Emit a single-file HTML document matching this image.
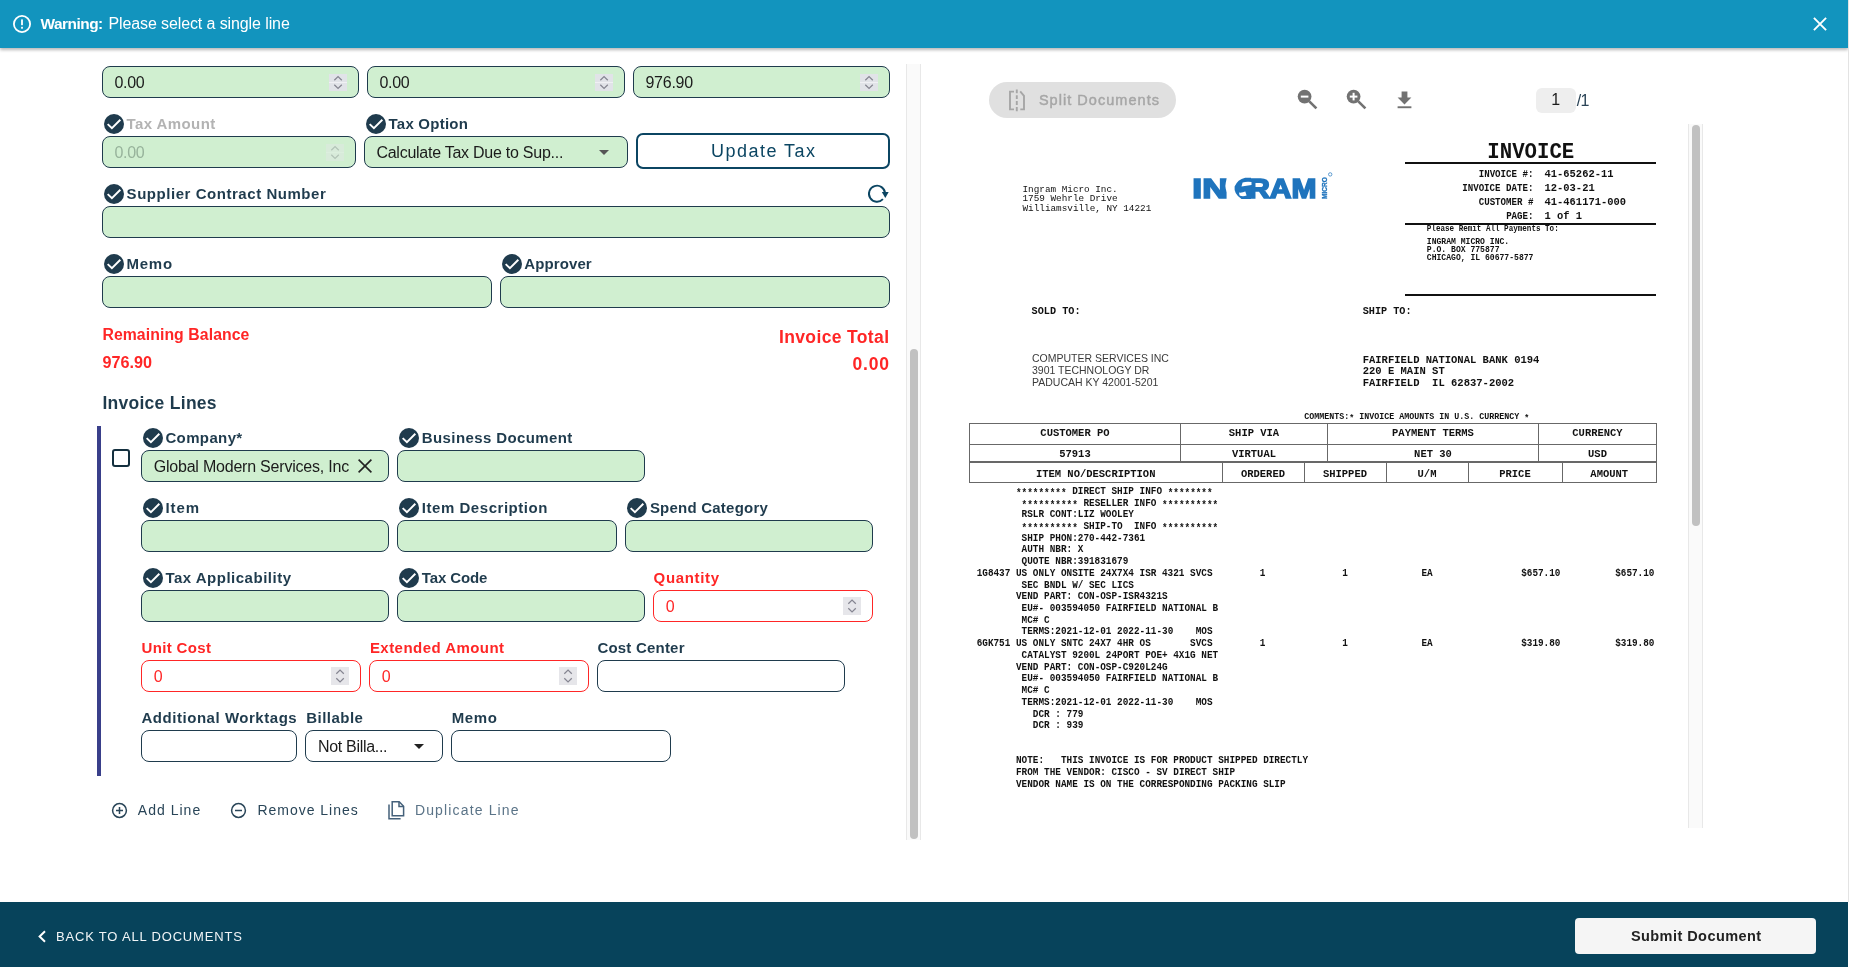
<!DOCTYPE html>
<html><head><meta charset="utf-8"><title>Invoice</title>
<style>
html,body{margin:0;padding:0;background:#fff;}
body{width:1849px;height:967px;position:relative;overflow:hidden;will-change:transform;font-family:"Liberation Sans",sans-serif;}
.b{position:absolute;display:block;}
.t{position:absolute;white-space:pre;display:block;}
</style></head><body>
<div class="b" style="left:0;top:0;width:1848px;height:48px;background:#1294be;box-shadow:0 2px 3px rgba(0,0,0,.28);z-index:5"></div>
<svg class="b" style="left:12.4px;top:13.7px;z-index:6" width="20" height="20" viewBox="0 0 20 20"><circle cx="10" cy="10" r="8.1" fill="none" stroke="#fff" stroke-width="1.8"/><rect x="9.1" y="5.4" width="1.8" height="5.8" fill="#fff"/><rect x="9.1" y="12.8" width="1.8" height="1.9" fill="#fff"/></svg>
<span class="t" style="left:40.60px;top:16.16px;font-size:15.4px;line-height:1;color:#fff;font-family:'Liberation Sans',sans-serif;font-weight:700;letter-spacing:-0.507px;z-index:6;">Warning:</span>
<span class="t" style="left:108.40px;top:15.66px;font-size:16px;line-height:1;color:#fff;font-family:'Liberation Sans',sans-serif;letter-spacing:-0.104px;z-index:6;">Please select a single line</span>
<svg class="b" style="left:1812.5px;top:16.6px;z-index:6" width="14" height="14" viewBox="0 0 14 14"><path d="M0.9 0.9L13.1 13.1M13.1 0.9L0.9 13.1" stroke="#fff" stroke-width="1.9" fill="none"/></svg>
<div class="b" style="left:1848px;top:0px;width:1px;height:902px;background:#e3e3e3;z-index:7"></div>
<div class="b" style="left:0px;top:902px;width:1848px;height:65px;background:#07435b"></div>
<svg class="b" style="left:37px;top:930px" width="10" height="13" viewBox="0 0 10 13"><path d="M8 1.2L2.6 6.5L8 11.8" fill="none" stroke="#fff" stroke-width="2"/></svg>
<span class="t" style="left:56.00px;top:930.30px;font-size:13px;line-height:1;color:#f1f5f7;font-family:'Liberation Sans',sans-serif;letter-spacing:0.814px;">BACK TO ALL DOCUMENTS</span>
<div class="b" style="left:1575px;top:918px;width:241px;height:36px;background:#f5f5f5;border-radius:4px"></div>
<span class="t" style="left:1630.90px;top:929.03px;font-size:14.5px;line-height:1;color:#222;font-family:'Liberation Sans',sans-serif;font-weight:700;letter-spacing:0.446px;">Submit Document</span>
<div class="b" style="left:906px;top:64px;width:15px;height:776px;background:#fafafa;box-sizing:border-box;border-left:1px solid #e8e8e8;border-right:1px solid #e8e8e8"></div>
<div class="b" style="left:910px;top:349px;width:8px;height:490px;background:#c1c1c1;border-radius:4px"></div>
<div class="b" style="left:102px;top:66px;width:257px;height:32px;box-sizing:border-box;background:#d0efd0;border:1px solid #1f3b4d;border-radius:8px;"></div>
<span class="t" style="left:114.40px;top:75.26px;font-size:16px;line-height:1;color:#1b1b1b;font-family:'Liberation Sans',sans-serif;letter-spacing:-0.280px;">0.00</span>
<svg class="b" style="left:329px;top:74px;opacity:1" width="18" height="17" viewBox="0 0 18 17"><rect width="18" height="17" fill="#e1e3e8"/><rect y="8.0" width="18" height="1" fill="#f0f0f4"/><path d="M5.3 6.3 L9.05 2.5999999999999996 L12.8 6.3 M5.3 10.7 L9.05 14.4 L12.8 10.7" fill="none" stroke="#858591" stroke-width="1.25"/></svg>
<div class="b" style="left:367px;top:66px;width:258px;height:32px;box-sizing:border-box;background:#d0efd0;border:1px solid #1f3b4d;border-radius:8px;"></div>
<span class="t" style="left:379.40px;top:75.26px;font-size:16px;line-height:1;color:#1b1b1b;font-family:'Liberation Sans',sans-serif;letter-spacing:-0.280px;">0.00</span>
<svg class="b" style="left:595px;top:74px;opacity:1" width="18" height="17" viewBox="0 0 18 17"><rect width="18" height="17" fill="#e1e3e8"/><rect y="8.0" width="18" height="1" fill="#f0f0f4"/><path d="M5.3 6.3 L9.05 2.5999999999999996 L12.8 6.3 M5.3 10.7 L9.05 14.4 L12.8 10.7" fill="none" stroke="#858591" stroke-width="1.25"/></svg>
<div class="b" style="left:633px;top:66px;width:257px;height:32px;box-sizing:border-box;background:#d0efd0;border:1px solid #1f3b4d;border-radius:8px;"></div>
<span class="t" style="left:645.40px;top:75.26px;font-size:16px;line-height:1;color:#1b1b1b;font-family:'Liberation Sans',sans-serif;letter-spacing:-0.228px;">976.90</span>
<svg class="b" style="left:860px;top:74px;opacity:1" width="18" height="17" viewBox="0 0 18 17"><rect width="18" height="17" fill="#e1e3e8"/><rect y="8.0" width="18" height="1" fill="#f0f0f4"/><path d="M5.3 6.3 L9.05 2.5999999999999996 L12.8 6.3 M5.3 10.7 L9.05 14.4 L12.8 10.7" fill="none" stroke="#858591" stroke-width="1.25"/></svg>
<svg class="b" style="left:104px;top:114px" width="20" height="20" viewBox="0 0 24 24"><circle cx="12" cy="12" r="12" fill="#1f3b4d"/><path d="M4.4 12.1 L9.5 17.1 L19.6 6.9" fill="none" stroke="#fff" stroke-width="2.3"/></svg>
<span class="t" style="left:126.60px;top:116.10px;font-size:15px;line-height:1;color:#b3b3b3;font-family:'Liberation Sans',sans-serif;font-weight:700;letter-spacing:0.400px;">Tax Amount</span>
<div class="b" style="left:102px;top:136px;width:254px;height:32px;box-sizing:border-box;background:#d0efd0;border:1px solid #1f3b4d;border-radius:8px;"></div>
<span class="t" style="left:114.40px;top:145.26px;font-size:16px;line-height:1;color:#97b39b;font-family:'Liberation Sans',sans-serif;letter-spacing:-0.280px;">0.00</span>
<svg class="b" style="left:326px;top:144px;opacity:0.4" width="18" height="17" viewBox="0 0 18 17"><rect width="18" height="17" fill="#e6e6ea"/><rect y="8.0" width="18" height="1" fill="#f0f0f4"/><path d="M5.3 6.3 L9.05 2.5999999999999996 L12.8 6.3 M5.3 10.7 L9.05 14.4 L12.8 10.7" fill="none" stroke="#858591" stroke-width="1.25"/></svg>
<svg class="b" style="left:366px;top:114px" width="20" height="20" viewBox="0 0 24 24"><circle cx="12" cy="12" r="12" fill="#1f3b4d"/><path d="M4.4 12.1 L9.5 17.1 L19.6 6.9" fill="none" stroke="#fff" stroke-width="2.3"/></svg>
<span class="t" style="left:388.50px;top:116.10px;font-size:15px;line-height:1;color:#1f3b4d;font-family:'Liberation Sans',sans-serif;font-weight:700;letter-spacing:0.242px;">Tax Option</span>
<div class="b" style="left:364px;top:136px;width:264px;height:32px;box-sizing:border-box;background:#d0efd0;border:1px solid #1f3b4d;border-radius:8px;"></div>
<span class="t" style="left:376.40px;top:145.26px;font-size:16px;line-height:1;color:#1b1b1b;font-family:'Liberation Sans',sans-serif;letter-spacing:-0.254px;">Calculate Tax Due to Sup...</span>
<svg class="b" style="left:598.5px;top:149.5px" width="10" height="5" viewBox="0 0 10 5"><path d="M0 0H10L5 5Z" fill="#555"/></svg>
<div class="b" style="left:636px;top:133px;width:254px;height:36px;box-sizing:border-box;background:#fff;border:2px solid #0b4562;border-radius:7px;"></div>
<span class="t" style="left:711.00px;top:142.06px;font-size:18px;line-height:1;color:#0b4562;font-family:'Liberation Sans',sans-serif;letter-spacing:1.474px;">Update Tax</span>
<svg class="b" style="left:104px;top:184px" width="20" height="20" viewBox="0 0 24 24"><circle cx="12" cy="12" r="12" fill="#1f3b4d"/><path d="M4.4 12.1 L9.5 17.1 L19.6 6.9" fill="none" stroke="#fff" stroke-width="2.3"/></svg>
<span class="t" style="left:126.60px;top:186.10px;font-size:15px;line-height:1;color:#1f3b4d;font-family:'Liberation Sans',sans-serif;font-weight:700;letter-spacing:0.544px;">Supplier Contract Number</span>
<svg class="b" style="left:866px;top:183px" width="24" height="22" viewBox="0 0 24 22"><path d="M19.05 10.3A8.05 8.05 0 1 0 16.9 16.2" fill="none" stroke="#0b4562" stroke-width="1.9"/><path d="M15.8 8.9H22.7L19.3 15.1Z" fill="#0b4562"/></svg>
<div class="b" style="left:102px;top:206px;width:788px;height:32px;box-sizing:border-box;background:#d0efd0;border:1px solid #1f3b4d;border-radius:8px;"></div>
<svg class="b" style="left:104px;top:254px" width="20" height="20" viewBox="0 0 24 24"><circle cx="12" cy="12" r="12" fill="#1f3b4d"/><path d="M4.4 12.1 L9.5 17.1 L19.6 6.9" fill="none" stroke="#fff" stroke-width="2.3"/></svg>
<span class="t" style="left:126.60px;top:256.10px;font-size:15px;line-height:1;color:#1f3b4d;font-family:'Liberation Sans',sans-serif;font-weight:700;letter-spacing:0.721px;">Memo</span>
<div class="b" style="left:102px;top:276px;width:390px;height:32px;box-sizing:border-box;background:#d0efd0;border:1px solid #1f3b4d;border-radius:8px;"></div>
<svg class="b" style="left:502px;top:254px" width="20" height="20" viewBox="0 0 24 24"><circle cx="12" cy="12" r="12" fill="#1f3b4d"/><path d="M4.4 12.1 L9.5 17.1 L19.6 6.9" fill="none" stroke="#fff" stroke-width="2.3"/></svg>
<span class="t" style="left:524.30px;top:256.10px;font-size:15px;line-height:1;color:#1f3b4d;font-family:'Liberation Sans',sans-serif;font-weight:700;letter-spacing:0.103px;">Approver</span>
<div class="b" style="left:500px;top:276px;width:390px;height:32px;box-sizing:border-box;background:#d0efd0;border:1px solid #1f3b4d;border-radius:8px;"></div>
<span class="t" style="left:102.40px;top:326.83px;font-size:15.8px;line-height:1;color:#ff2626;font-family:'Liberation Sans',sans-serif;font-weight:700;letter-spacing:0.078px;">Remaining Balance</span>
<span class="t" style="left:102.40px;top:354.19px;font-size:16.2px;line-height:1;color:#ff2626;font-family:'Liberation Sans',sans-serif;font-weight:700;letter-spacing:0.040px;">976.90</span>
<span class="t" style="left:779.00px;top:329.19px;font-size:17.5px;line-height:1;color:#ff2626;font-family:'Liberation Sans',sans-serif;font-weight:700;letter-spacing:0.361px;">Invoice Total</span>
<span class="t" style="left:852.40px;top:356.29px;font-size:17.5px;line-height:1;color:#ff2626;font-family:'Liberation Sans',sans-serif;font-weight:700;letter-spacing:0.847px;">0.00</span>
<span class="t" style="left:102.40px;top:395.39px;font-size:17.5px;line-height:1;color:#1f3b4d;font-family:'Liberation Sans',sans-serif;font-weight:700;letter-spacing:0.277px;">Invoice Lines</span>
<div class="b" style="left:97px;top:426px;width:4px;height:350px;background:#393f8a"></div>
<div class="b" style="left:112px;top:449px;width:18px;height:18px;box-sizing:border-box;border:2px solid #14303f;border-radius:3px;background:#fff"></div>
<svg class="b" style="left:143px;top:428px" width="20" height="20" viewBox="0 0 24 24"><circle cx="12" cy="12" r="12" fill="#1f3b4d"/><path d="M4.4 12.1 L9.5 17.1 L19.6 6.9" fill="none" stroke="#fff" stroke-width="2.3"/></svg>
<span class="t" style="left:165.40px;top:430.10px;font-size:15px;line-height:1;color:#1f3b4d;font-family:'Liberation Sans',sans-serif;font-weight:700;letter-spacing:0.374px;">Company*</span>
<div class="b" style="left:141px;top:450px;width:248px;height:32px;box-sizing:border-box;background:#d0efd0;border:1px solid #1f3b4d;border-radius:8px;"></div>
<span class="t" style="left:153.70px;top:459.26px;font-size:16px;line-height:1;color:#1b1b1b;font-family:'Liberation Sans',sans-serif;letter-spacing:-0.211px;">Global Modern Services, Inc</span>
<svg class="b" style="left:358px;top:459px" width="14" height="14" viewBox="0 0 14 14"><path d="M0.6 0.6L13.4 13.4M13.4 0.6L0.6 13.4" stroke="#222" stroke-width="1.6" fill="none"/></svg>
<svg class="b" style="left:399px;top:428px" width="20" height="20" viewBox="0 0 24 24"><circle cx="12" cy="12" r="12" fill="#1f3b4d"/><path d="M4.4 12.1 L9.5 17.1 L19.6 6.9" fill="none" stroke="#fff" stroke-width="2.3"/></svg>
<span class="t" style="left:421.80px;top:430.10px;font-size:15px;line-height:1;color:#1f3b4d;font-family:'Liberation Sans',sans-serif;font-weight:700;letter-spacing:0.394px;">Business Document</span>
<div class="b" style="left:397px;top:450px;width:248px;height:32px;box-sizing:border-box;background:#d0efd0;border:1px solid #1f3b4d;border-radius:8px;"></div>
<svg class="b" style="left:143px;top:498px" width="20" height="20" viewBox="0 0 24 24"><circle cx="12" cy="12" r="12" fill="#1f3b4d"/><path d="M4.4 12.1 L9.5 17.1 L19.6 6.9" fill="none" stroke="#fff" stroke-width="2.3"/></svg>
<span class="t" style="left:165.40px;top:500.10px;font-size:15px;line-height:1;color:#1f3b4d;font-family:'Liberation Sans',sans-serif;font-weight:700;letter-spacing:0.919px;">Item</span>
<div class="b" style="left:141px;top:520px;width:248px;height:32px;box-sizing:border-box;background:#d0efd0;border:1px solid #1f3b4d;border-radius:8px;"></div>
<svg class="b" style="left:399px;top:498px" width="20" height="20" viewBox="0 0 24 24"><circle cx="12" cy="12" r="12" fill="#1f3b4d"/><path d="M4.4 12.1 L9.5 17.1 L19.6 6.9" fill="none" stroke="#fff" stroke-width="2.3"/></svg>
<span class="t" style="left:421.80px;top:500.10px;font-size:15px;line-height:1;color:#1f3b4d;font-family:'Liberation Sans',sans-serif;font-weight:700;letter-spacing:0.538px;">Item Description</span>
<div class="b" style="left:397px;top:520px;width:220px;height:32px;box-sizing:border-box;background:#d0efd0;border:1px solid #1f3b4d;border-radius:8px;"></div>
<svg class="b" style="left:627px;top:498px" width="20" height="20" viewBox="0 0 24 24"><circle cx="12" cy="12" r="12" fill="#1f3b4d"/><path d="M4.4 12.1 L9.5 17.1 L19.6 6.9" fill="none" stroke="#fff" stroke-width="2.3"/></svg>
<span class="t" style="left:649.90px;top:500.10px;font-size:15px;line-height:1;color:#1f3b4d;font-family:'Liberation Sans',sans-serif;font-weight:700;letter-spacing:0.222px;">Spend Category</span>
<div class="b" style="left:625px;top:520px;width:248px;height:32px;box-sizing:border-box;background:#d0efd0;border:1px solid #1f3b4d;border-radius:8px;"></div>
<svg class="b" style="left:143px;top:568px" width="20" height="20" viewBox="0 0 24 24"><circle cx="12" cy="12" r="12" fill="#1f3b4d"/><path d="M4.4 12.1 L9.5 17.1 L19.6 6.9" fill="none" stroke="#fff" stroke-width="2.3"/></svg>
<span class="t" style="left:165.40px;top:570.10px;font-size:15px;line-height:1;color:#1f3b4d;font-family:'Liberation Sans',sans-serif;font-weight:700;letter-spacing:0.505px;">Tax Applicability</span>
<div class="b" style="left:141px;top:590px;width:248px;height:32px;box-sizing:border-box;background:#d0efd0;border:1px solid #1f3b4d;border-radius:8px;"></div>
<svg class="b" style="left:399px;top:568px" width="20" height="20" viewBox="0 0 24 24"><circle cx="12" cy="12" r="12" fill="#1f3b4d"/><path d="M4.4 12.1 L9.5 17.1 L19.6 6.9" fill="none" stroke="#fff" stroke-width="2.3"/></svg>
<span class="t" style="left:421.80px;top:570.10px;font-size:15px;line-height:1;color:#1f3b4d;font-family:'Liberation Sans',sans-serif;font-weight:700;letter-spacing:-0.129px;">Tax Code</span>
<div class="b" style="left:397px;top:590px;width:248px;height:32px;box-sizing:border-box;background:#d0efd0;border:1px solid #1f3b4d;border-radius:8px;"></div>
<span class="t" style="left:653.60px;top:570.10px;font-size:15px;line-height:1;color:#ff2626;font-family:'Liberation Sans',sans-serif;font-weight:700;letter-spacing:0.652px;">Quantity</span>
<div class="b" style="left:653px;top:590px;width:220px;height:32px;box-sizing:border-box;background:#fff;border:1px solid #ff2626;border-radius:8px;"></div>
<span class="t" style="left:665.70px;top:599.26px;font-size:16px;line-height:1;color:#ff2626;font-family:'Liberation Sans',sans-serif;">0</span>
<svg class="b" style="left:843px;top:597px;opacity:1" width="18" height="18" viewBox="0 0 18 18"><rect width="18" height="18" fill="#e6e6ea"/><path d="M5.3 6.8 L9.05 3.0999999999999996 L12.8 6.8 M5.3 11.2 L9.05 14.9 L12.8 11.2" fill="none" stroke="#858591" stroke-width="1.25"/></svg>
<span class="t" style="left:141.50px;top:640.10px;font-size:15px;line-height:1;color:#ff2626;font-family:'Liberation Sans',sans-serif;font-weight:700;letter-spacing:0.343px;">Unit Cost</span>
<div class="b" style="left:141px;top:660px;width:220px;height:32px;box-sizing:border-box;background:#fff;border:1px solid #ff2626;border-radius:8px;"></div>
<span class="t" style="left:153.70px;top:669.26px;font-size:16px;line-height:1;color:#ff2626;font-family:'Liberation Sans',sans-serif;">0</span>
<svg class="b" style="left:331px;top:667px;opacity:1" width="18" height="18" viewBox="0 0 18 18"><rect width="18" height="18" fill="#e6e6ea"/><path d="M5.3 6.8 L9.05 3.0999999999999996 L12.8 6.8 M5.3 11.2 L9.05 14.9 L12.8 11.2" fill="none" stroke="#858591" stroke-width="1.25"/></svg>
<span class="t" style="left:369.90px;top:640.10px;font-size:15px;line-height:1;color:#ff2626;font-family:'Liberation Sans',sans-serif;font-weight:700;letter-spacing:0.459px;">Extended Amount</span>
<div class="b" style="left:369px;top:660px;width:220px;height:32px;box-sizing:border-box;background:#fff;border:1px solid #ff2626;border-radius:8px;"></div>
<span class="t" style="left:381.70px;top:669.26px;font-size:16px;line-height:1;color:#ff2626;font-family:'Liberation Sans',sans-serif;">0</span>
<svg class="b" style="left:559px;top:667px;opacity:1" width="18" height="18" viewBox="0 0 18 18"><rect width="18" height="18" fill="#e6e6ea"/><path d="M5.3 6.8 L9.05 3.0999999999999996 L12.8 6.8 M5.3 11.2 L9.05 14.9 L12.8 11.2" fill="none" stroke="#858591" stroke-width="1.25"/></svg>
<span class="t" style="left:597.40px;top:640.10px;font-size:15px;line-height:1;color:#1f3b4d;font-family:'Liberation Sans',sans-serif;font-weight:700;letter-spacing:0.209px;">Cost Center</span>
<div class="b" style="left:597px;top:660px;width:248px;height:32px;box-sizing:border-box;background:#fff;border:1px solid #1f3b4d;border-radius:8px;"></div>
<span class="t" style="left:141.50px;top:710.10px;font-size:15px;line-height:1;color:#1f3b4d;font-family:'Liberation Sans',sans-serif;font-weight:700;letter-spacing:0.535px;">Additional Worktags</span>
<div class="b" style="left:141px;top:730px;width:156px;height:32px;box-sizing:border-box;background:#fff;border:1px solid #1f3b4d;border-radius:8px;"></div>
<span class="t" style="left:306.20px;top:710.10px;font-size:15px;line-height:1;color:#1f3b4d;font-family:'Liberation Sans',sans-serif;font-weight:700;letter-spacing:0.479px;">Billable</span>
<div class="b" style="left:305px;top:730px;width:138px;height:32px;box-sizing:border-box;background:#fff;border:1px solid #1f3b4d;border-radius:8px;"></div>
<span class="t" style="left:318.00px;top:739.26px;font-size:16px;line-height:1;color:#1b1b1b;font-family:'Liberation Sans',sans-serif;letter-spacing:-0.310px;">Not Billa...</span>
<svg class="b" style="left:414px;top:743.5px" width="10" height="5" viewBox="0 0 10 5"><path d="M0 0H10L5 5Z" fill="#222"/></svg>
<span class="t" style="left:451.70px;top:710.10px;font-size:15px;line-height:1;color:#1f3b4d;font-family:'Liberation Sans',sans-serif;font-weight:700;letter-spacing:0.621px;">Memo</span>
<div class="b" style="left:451px;top:730px;width:220px;height:32px;box-sizing:border-box;background:#fff;border:1px solid #1f3b4d;border-radius:8px;"></div>
<svg class="b" style="left:110.6px;top:802px" width="17" height="17" viewBox="0 0 17 17"><circle cx="8.5" cy="8.5" r="6.9" fill="none" stroke="#294558" stroke-width="1.5"/><path d="M5 8.5H12M8.5 5V12" stroke="#294558" stroke-width="1.5"/></svg>
<span class="t" style="left:137.80px;top:803.35px;font-size:14px;line-height:1;color:#294558;font-family:'Liberation Sans',sans-serif;letter-spacing:1.019px;">Add Line</span>
<svg class="b" style="left:230.3px;top:802px" width="17" height="17" viewBox="0 0 17 17"><circle cx="8.5" cy="8.5" r="6.9" fill="none" stroke="#294558" stroke-width="1.5"/><path d="M5 8.5H12" stroke="#294558" stroke-width="1.5"/></svg>
<span class="t" style="left:257.40px;top:803.35px;font-size:14px;line-height:1;color:#294558;font-family:'Liberation Sans',sans-serif;letter-spacing:0.983px;">Remove Lines</span>
<svg class="b" style="left:388px;top:801px" width="17" height="19" viewBox="0 0 17 19"><path d="M4.2 2.8V0.8H11.2L15.6 5.2V14.8H4.2Z" fill="none" stroke="#44607a" stroke-width="1.5"/><path d="M11 1V5.4H15.4" fill="none" stroke="#44607a" stroke-width="1.5"/><path d="M1 3.6V17.8H12.6" fill="none" stroke="#44607a" stroke-width="1.5"/></svg>
<span class="t" style="left:414.90px;top:803.35px;font-size:14px;line-height:1;color:#5b7488;font-family:'Liberation Sans',sans-serif;letter-spacing:1.152px;">Duplicate Line</span>
<div class="b" style="left:989px;top:82px;width:187px;height:36px;background:#e0e0e0;border-radius:18px"></div>
<svg class="b" style="left:1008px;top:88.5px" width="18" height="23" viewBox="0 0 18 23"><path d="M6 2.6H2V20.4H6" fill="none" stroke="#a6a6a6" stroke-width="1.9"/><path d="M12.2 2.3L16 6.9V20.4H12.3" fill="none" stroke="#a6a6a6" stroke-width="1.9"/><path d="M8.8 0.5V4.3M8.8 6.2V10.1M8.8 11.9V15.9M8.8 17.9V22.2" stroke="#a6a6a6" stroke-width="1.9" fill="none"/></svg>
<span class="t" style="left:1038.90px;top:93.03px;font-size:14.5px;line-height:1;color:#a6a6a6;font-family:'Liberation Sans',sans-serif;letter-spacing:1.038px;-webkit-text-stroke:0.45px #a6a6a6;">Split Documents</span>
<svg class="b" style="left:1297.3px;top:88.8px" width="21" height="21" viewBox="0 0 21 21"><circle cx="7.6" cy="7.6" r="6.9" fill="#727272"/><path d="M12.3 12.3L19.4 19.4" stroke="#727272" stroke-width="2.6" fill="none"/><path d="M3.8 7.6H11.4" stroke="#fff" stroke-width="2"/></svg>
<svg class="b" style="left:1345.7px;top:88.8px" width="21" height="21" viewBox="0 0 21 21"><circle cx="7.6" cy="7.6" r="6.9" fill="#727272"/><path d="M12.3 12.3L19.4 19.4" stroke="#727272" stroke-width="2.6" fill="none"/><path d="M3.8 7.6H11.4" stroke="#fff" stroke-width="2"/><path d="M7.6 3.8V11.4" stroke="#fff" stroke-width="2"/></svg>
<svg class="b" style="left:1396.9px;top:90.9px" width="15" height="18" viewBox="0 0 15 18"><path d="M4.6 0.5H10.4V6.6H14.4L7.5 13.4L0.6 6.6H4.6Z" fill="#727272"/><rect x="0.6" y="15.3" width="13.8" height="1.9" fill="#727272"/></svg>
<div class="b" style="left:1536px;top:88px;width:40px;height:25px;background:#eeeeee;border-radius:6px"></div>
<span class="t" style="left:1551.25px;top:92.16px;font-size:16px;line-height:1;color:#1b1b1b;font-family:'Liberation Sans',sans-serif;">1</span>
<span class="t" style="left:1576.80px;top:93.26px;font-size:16px;line-height:1;color:#2a4356;font-family:'Liberation Sans',sans-serif;letter-spacing:-0.644px;">/1</span>
<div class="b" style="left:1688px;top:124px;width:15px;height:704px;background:#fafafa;box-sizing:border-box;border-left:1px solid #e8e8e8;border-right:1px solid #e8e8e8"></div>
<div class="b" style="left:1692px;top:125px;width:8px;height:401px;background:#c1c1c1;border-radius:4px"></div>
<span class="t" style="left:1022.50px;top:184.83px;font-size:9.349px;line-height:1;color:#111;font-family:'Liberation Mono',monospace;transform:scale(1,1.06);transform-origin:0 7.17px;">Ingram Micro Inc.</span>
<span class="t" style="left:1022.50px;top:194.18px;font-size:9.349px;line-height:1;color:#111;font-family:'Liberation Mono',monospace;transform:scale(1,1.06);transform-origin:0 7.17px;">1759 Wehrle Drive</span>
<span class="t" style="left:1022.50px;top:203.53px;font-size:9.349px;line-height:1;color:#111;font-family:'Liberation Mono',monospace;transform:scale(1,1.06);transform-origin:0 7.17px;">Williamsville, NY 14221</span>
<svg class="b" style="left:1190px;top:170px" width="146" height="34" viewBox="0 0 146 34"><g fill="#1f74bd" stroke="#1f74bd" stroke-width="1.7" stroke-linejoin="miter" font-family="Liberation Sans, sans-serif" font-weight="700" font-size="28.2"><text x="2.3" y="28.05" textLength="35.5" lengthAdjust="spacingAndGlyphs">IN</text><text x="58.2" y="28.05" textLength="68.2" lengthAdjust="spacingAndGlyphs">RAM</text></g><path d="M38.4 6Q30.5 19 43.5 30.5L53 30.5Q40.5 21.5 54.5 6Z" fill="#fff"/><path d="M62 7.7L55.2 7.7Q47.5 9.5 44.6 16.5Q43.6 24 51.5 28.9L61 28.9L61 7.7Z" fill="#1f74bd"/><path d="M52.6 12.6Q56 11.2 61.5 11.9L61.5 15L51.5 16.4Z" fill="#fff"/><path d="M49 22.6Q52.5 22.9 55.3 21.6L56.6 25.4Q53 27 49.6 25.5Z" fill="#fff"/><text transform="translate(137.1,29) rotate(-90)" font-family="Liberation Sans, sans-serif" font-weight="700" font-size="6.4" fill="#1f74bd" stroke="#1f74bd" stroke-width="0.3" textLength="21.8" lengthAdjust="spacingAndGlyphs">MICRO</text><circle cx="140.2" cy="4.4" r="1.7" fill="none" stroke="#1f74bd" stroke-width="0.7"/></svg>
<span class="t" style="left:1487.30px;top:143.32px;font-size:20.714px;line-height:1;color:#111;font-family:'Liberation Mono',monospace;font-weight:700;transform:scale(1,1.1);transform-origin:0 15.88px;">INVOICE</span>
<div class="b" style="left:1405.4px;top:161.7px;width:250.6px;height:2px;background:#111"></div>
<div class="b" style="left:1405.4px;top:223.2px;width:250.6px;height:2px;background:#111"></div>
<div class="b" style="left:1405.4px;top:293.6px;width:250.6px;height:2px;background:#111"></div>
<span class="t" style="left:1478.70px;top:169.99px;font-size:9.149px;line-height:1;color:#111;font-family:'Liberation Mono',monospace;font-weight:700;transform:scale(1,1.1);transform-origin:0 7.01px;">INVOICE #:</span>
<span class="t" style="left:1544.50px;top:168.98px;font-size:10.465px;line-height:1;color:#111;font-family:'Liberation Mono',monospace;font-weight:700;transform:scale(1,1.1);transform-origin:0 8.02px;">41-65262-11</span>
<span class="t" style="left:1462.23px;top:183.89px;font-size:9.149px;line-height:1;color:#111;font-family:'Liberation Mono',monospace;font-weight:700;transform:scale(1,1.1);transform-origin:0 7.01px;">INVOICE DATE:</span>
<span class="t" style="left:1544.50px;top:182.88px;font-size:10.465px;line-height:1;color:#111;font-family:'Liberation Mono',monospace;font-weight:700;transform:scale(1,1.1);transform-origin:0 8.02px;">12-03-21</span>
<span class="t" style="left:1478.70px;top:197.89px;font-size:9.149px;line-height:1;color:#111;font-family:'Liberation Mono',monospace;font-weight:700;transform:scale(1,1.1);transform-origin:0 7.01px;">CUSTOMER #</span>
<span class="t" style="left:1544.50px;top:196.88px;font-size:10.465px;line-height:1;color:#111;font-family:'Liberation Mono',monospace;font-weight:700;transform:scale(1,1.1);transform-origin:0 8.02px;">41-461171-000</span>
<span class="t" style="left:1506.15px;top:212.19px;font-size:9.149px;line-height:1;color:#111;font-family:'Liberation Mono',monospace;font-weight:700;transform:scale(1,1.1);transform-origin:0 7.01px;">PAGE:</span>
<span class="t" style="left:1544.50px;top:211.18px;font-size:10.465px;line-height:1;color:#111;font-family:'Liberation Mono',monospace;font-weight:700;transform:scale(1,1.1);transform-origin:0 8.02px;">1 of 1</span>
<span class="t" style="left:1426.80px;top:226.18px;font-size:7.599px;line-height:1;color:#111;font-family:'Liberation Mono',monospace;font-weight:700;transform:scale(1,1.1);transform-origin:0 5.82px;">Please Remit All Payments To:</span>
<span class="t" style="left:1426.80px;top:238.09px;font-size:8.099px;line-height:1;color:#111;font-family:'Liberation Mono',monospace;font-weight:700;transform:scale(1,1.1);transform-origin:0 6.21px;">INGRAM MICRO INC.</span>
<span class="t" style="left:1426.80px;top:246.29px;font-size:8.099px;line-height:1;color:#111;font-family:'Liberation Mono',monospace;font-weight:700;transform:scale(1,1.1);transform-origin:0 6.21px;">P.O. BOX 775877</span>
<span class="t" style="left:1426.80px;top:254.49px;font-size:8.099px;line-height:1;color:#111;font-family:'Liberation Mono',monospace;font-weight:700;transform:scale(1,1.1);transform-origin:0 6.21px;">CHICAGO, IL 60677-5877</span>
<span class="t" style="left:1031.60px;top:307.18px;font-size:10.207px;line-height:1;color:#111;font-family:'Liberation Mono',monospace;font-weight:700;transform:scale(1,1.1);transform-origin:0 7.82px;">SOLD TO:</span>
<span class="t" style="left:1362.70px;top:307.18px;font-size:10.207px;line-height:1;color:#111;font-family:'Liberation Mono',monospace;font-weight:700;transform:scale(1,1.1);transform-origin:0 7.82px;">SHIP TO:</span>
<span class="t" style="left:1031.60px;top:352.38px;font-size:11.6px;line-height:1;color:#3a3a3a;font-family:'Liberation Sans',sans-serif;transform:scale(0.9058,1);transform-origin:0 9.82px;">COMPUTER SERVICES INC</span>
<span class="t" style="left:1031.60px;top:364.08px;font-size:11.6px;line-height:1;color:#3a3a3a;font-family:'Liberation Sans',sans-serif;transform:scale(0.9045,1);transform-origin:0 9.82px;">3901 TECHNOLOGY DR</span>
<span class="t" style="left:1031.60px;top:376.38px;font-size:11.6px;line-height:1;color:#3a3a3a;font-family:'Liberation Sans',sans-serif;transform:scale(0.9061,1);transform-origin:0 9.82px;">PADUCAH KY 42001-5201</span>
<span class="t" style="left:1362.70px;top:354.63px;font-size:10.532px;line-height:1;color:#111;font-family:'Liberation Mono',monospace;font-weight:700;transform:scale(1,1.1);transform-origin:0 8.07px;">FAIRFIELD NATIONAL BANK 0194</span>
<span class="t" style="left:1362.70px;top:366.33px;font-size:10.532px;line-height:1;color:#111;font-family:'Liberation Mono',monospace;font-weight:700;transform:scale(1,1.1);transform-origin:0 8.07px;">220 E MAIN ST</span>
<span class="t" style="left:1362.70px;top:378.23px;font-size:10.532px;line-height:1;color:#111;font-family:'Liberation Mono',monospace;font-weight:700;transform:scale(1,1.1);transform-origin:0 8.07px;">FAIRFIELD &nbsp;IL 62837-2002</span>
<span class="t" style="left:1304.30px;top:413.01px;font-size:8.332px;line-height:1;color:#111;font-family:'Liberation Mono',monospace;font-weight:700;transform:scale(1,1.1);transform-origin:0 6.39px;">COMMENTS:<i style="font-style:normal;position:relative;top:2.0px">*</i> INVOICE AMOUNTS IN U.S. CURRENCY <i style="font-style:normal;position:relative;top:2.0px">*</i></span>
<div class="b" style="left:969px;top:423px;width:688px;height:1px;background:#686868"></div>
<div class="b" style="left:969px;top:444px;width:688px;height:1px;background:#686868"></div>
<div class="b" style="left:969px;top:461px;width:688px;height:1px;background:#686868"></div>
<div class="b" style="left:969px;top:462px;width:688px;height:1px;background:#686868"></div>
<div class="b" style="left:969px;top:482px;width:688px;height:1px;background:#686868"></div>
<div class="b" style="left:969px;top:423px;width:1px;height:39px;background:#686868"></div>
<div class="b" style="left:1180px;top:423px;width:1px;height:39px;background:#686868"></div>
<div class="b" style="left:1327px;top:423px;width:1px;height:39px;background:#686868"></div>
<div class="b" style="left:1538px;top:423px;width:1px;height:39px;background:#686868"></div>
<div class="b" style="left:1656px;top:423px;width:1px;height:39px;background:#686868"></div>
<div class="b" style="left:969px;top:462px;width:1px;height:21px;background:#686868"></div>
<div class="b" style="left:1221.5px;top:462px;width:1px;height:21px;background:#686868"></div>
<div class="b" style="left:1303.5px;top:462px;width:1px;height:21px;background:#686868"></div>
<div class="b" style="left:1385.5px;top:462px;width:1px;height:21px;background:#686868"></div>
<div class="b" style="left:1467.5px;top:462px;width:1px;height:21px;background:#686868"></div>
<div class="b" style="left:1561.5px;top:462px;width:1px;height:21px;background:#686868"></div>
<div class="b" style="left:1656px;top:462px;width:1px;height:21px;background:#686868"></div>
<span class="t" style="left:1040.35px;top:427.95px;font-size:10.498px;line-height:1;color:#111;font-family:'Liberation Mono',monospace;font-weight:700;transform:scale(1,1.1);transform-origin:0 8.05px;">CUSTOMER PO</span>
<span class="t" style="left:1059.25px;top:448.65px;font-size:10.498px;line-height:1;color:#111;font-family:'Liberation Mono',monospace;font-weight:700;transform:scale(1,1.1);transform-origin:0 8.05px;">57913</span>
<span class="t" style="left:1228.80px;top:427.95px;font-size:10.498px;line-height:1;color:#111;font-family:'Liberation Mono',monospace;font-weight:700;transform:scale(1,1.1);transform-origin:0 8.05px;">SHIP VIA</span>
<span class="t" style="left:1231.95px;top:448.65px;font-size:10.498px;line-height:1;color:#111;font-family:'Liberation Mono',monospace;font-weight:700;transform:scale(1,1.1);transform-origin:0 8.05px;">VIRTUAL</span>
<span class="t" style="left:1392.05px;top:427.95px;font-size:10.498px;line-height:1;color:#111;font-family:'Liberation Mono',monospace;font-weight:700;transform:scale(1,1.1);transform-origin:0 8.05px;">PAYMENT TERMS</span>
<span class="t" style="left:1414.10px;top:448.65px;font-size:10.498px;line-height:1;color:#111;font-family:'Liberation Mono',monospace;font-weight:700;transform:scale(1,1.1);transform-origin:0 8.05px;">NET 30</span>
<span class="t" style="left:1572.30px;top:427.95px;font-size:10.498px;line-height:1;color:#111;font-family:'Liberation Mono',monospace;font-weight:700;transform:scale(1,1.1);transform-origin:0 8.05px;">CURRENCY</span>
<span class="t" style="left:1588.05px;top:448.65px;font-size:10.498px;line-height:1;color:#111;font-family:'Liberation Mono',monospace;font-weight:700;transform:scale(1,1.1);transform-origin:0 8.05px;">USD</span>
<span class="t" style="left:1035.90px;top:468.55px;font-size:10.498px;line-height:1;color:#111;font-family:'Liberation Mono',monospace;font-weight:700;transform:scale(1,1.1);transform-origin:0 8.05px;">ITEM NO/DESCRIPTION</span>
<span class="t" style="left:1240.95px;top:468.55px;font-size:10.498px;line-height:1;color:#111;font-family:'Liberation Mono',monospace;font-weight:700;transform:scale(1,1.1);transform-origin:0 8.05px;">ORDERED</span>
<span class="t" style="left:1322.95px;top:468.55px;font-size:10.498px;line-height:1;color:#111;font-family:'Liberation Mono',monospace;font-weight:700;transform:scale(1,1.1);transform-origin:0 8.05px;">SHIPPED</span>
<span class="t" style="left:1417.55px;top:468.55px;font-size:10.498px;line-height:1;color:#111;font-family:'Liberation Mono',monospace;font-weight:700;transform:scale(1,1.1);transform-origin:0 8.05px;">U/M</span>
<span class="t" style="left:1499.25px;top:468.55px;font-size:10.498px;line-height:1;color:#111;font-family:'Liberation Mono',monospace;font-weight:700;transform:scale(1,1.1);transform-origin:0 8.05px;">PRICE</span>
<span class="t" style="left:1590.35px;top:468.55px;font-size:10.498px;line-height:1;color:#111;font-family:'Liberation Mono',monospace;font-weight:700;transform:scale(1,1.1);transform-origin:0 8.05px;">AMOUNT</span>
<span class="t" style="left:1016.00px;top:486.82px;font-size:9.365px;line-height:1;color:#111;font-family:'Liberation Mono',monospace;font-weight:700;transform:scale(1,1.1);transform-origin:0 7.18px;"><i style="font-style:normal;position:relative;top:2.25px">*********</i> DIRECT SHIP INFO <i style="font-style:normal;position:relative;top:2.25px">********</i></span>
<span class="t" style="left:1021.62px;top:498.54px;font-size:9.365px;line-height:1;color:#111;font-family:'Liberation Mono',monospace;font-weight:700;transform:scale(1,1.1);transform-origin:0 7.18px;"><i style="font-style:normal;position:relative;top:2.25px">**********</i> RESELLER INFO <i style="font-style:normal;position:relative;top:2.25px">**********</i></span>
<span class="t" style="left:1021.62px;top:510.26px;font-size:9.365px;line-height:1;color:#111;font-family:'Liberation Mono',monospace;font-weight:700;transform:scale(1,1.1);transform-origin:0 7.18px;">RSLR CONT:LIZ WOOLEY</span>
<span class="t" style="left:1021.62px;top:521.98px;font-size:9.365px;line-height:1;color:#111;font-family:'Liberation Mono',monospace;font-weight:700;transform:scale(1,1.1);transform-origin:0 7.18px;"><i style="font-style:normal;position:relative;top:2.25px">**********</i> SHIP-TO &nbsp;INFO <i style="font-style:normal;position:relative;top:2.25px">**********</i></span>
<span class="t" style="left:1021.62px;top:533.70px;font-size:9.365px;line-height:1;color:#111;font-family:'Liberation Mono',monospace;font-weight:700;transform:scale(1,1.1);transform-origin:0 7.18px;">SHIP PHON:270-442-7361</span>
<span class="t" style="left:1021.62px;top:545.42px;font-size:9.365px;line-height:1;color:#111;font-family:'Liberation Mono',monospace;font-weight:700;transform:scale(1,1.1);transform-origin:0 7.18px;">AUTH NBR: X</span>
<span class="t" style="left:1021.62px;top:557.14px;font-size:9.365px;line-height:1;color:#111;font-family:'Liberation Mono',monospace;font-weight:700;transform:scale(1,1.1);transform-origin:0 7.18px;">QUOTE NBR:391831679</span>
<span class="t" style="left:976.66px;top:568.86px;font-size:9.365px;line-height:1;color:#111;font-family:'Liberation Mono',monospace;font-weight:700;transform:scale(1,1.1);transform-origin:0 7.18px;">1G8437 US ONLY ONSITE 24X7X4 ISR 4321 SVCS</span>
<span class="t" style="left:1021.62px;top:580.58px;font-size:9.365px;line-height:1;color:#111;font-family:'Liberation Mono',monospace;font-weight:700;transform:scale(1,1.1);transform-origin:0 7.18px;">SEC BNDL W/ SEC LICS</span>
<span class="t" style="left:1016.00px;top:592.30px;font-size:9.365px;line-height:1;color:#111;font-family:'Liberation Mono',monospace;font-weight:700;transform:scale(1,1.1);transform-origin:0 7.18px;">VEND PART: CON-OSP-ISR4321S</span>
<span class="t" style="left:1021.62px;top:604.02px;font-size:9.365px;line-height:1;color:#111;font-family:'Liberation Mono',monospace;font-weight:700;transform:scale(1,1.1);transform-origin:0 7.18px;">EU#- 003594050 FAIRFIELD NATIONAL B</span>
<span class="t" style="left:1021.62px;top:615.74px;font-size:9.365px;line-height:1;color:#111;font-family:'Liberation Mono',monospace;font-weight:700;transform:scale(1,1.1);transform-origin:0 7.18px;">MC# C</span>
<span class="t" style="left:1021.62px;top:627.46px;font-size:9.365px;line-height:1;color:#111;font-family:'Liberation Mono',monospace;font-weight:700;transform:scale(1,1.1);transform-origin:0 7.18px;">TERMS:2021-12-01 2022-11-30 &nbsp; &nbsp;MOS</span>
<span class="t" style="left:976.66px;top:639.18px;font-size:9.365px;line-height:1;color:#111;font-family:'Liberation Mono',monospace;font-weight:700;transform:scale(1,1.1);transform-origin:0 7.18px;">6GK751 US ONLY SNTC 24X7 4HR OS &nbsp; &nbsp; &nbsp; SVCS</span>
<span class="t" style="left:1021.62px;top:650.90px;font-size:9.365px;line-height:1;color:#111;font-family:'Liberation Mono',monospace;font-weight:700;transform:scale(1,1.1);transform-origin:0 7.18px;">CATALYST 9200L 24PORT POE+ 4X1G NET</span>
<span class="t" style="left:1016.00px;top:662.62px;font-size:9.365px;line-height:1;color:#111;font-family:'Liberation Mono',monospace;font-weight:700;transform:scale(1,1.1);transform-origin:0 7.18px;">VEND PART: CON-OSP-C920L24G</span>
<span class="t" style="left:1021.62px;top:674.34px;font-size:9.365px;line-height:1;color:#111;font-family:'Liberation Mono',monospace;font-weight:700;transform:scale(1,1.1);transform-origin:0 7.18px;">EU#- 003594050 FAIRFIELD NATIONAL B</span>
<span class="t" style="left:1021.62px;top:686.06px;font-size:9.365px;line-height:1;color:#111;font-family:'Liberation Mono',monospace;font-weight:700;transform:scale(1,1.1);transform-origin:0 7.18px;">MC# C</span>
<span class="t" style="left:1021.62px;top:697.78px;font-size:9.365px;line-height:1;color:#111;font-family:'Liberation Mono',monospace;font-weight:700;transform:scale(1,1.1);transform-origin:0 7.18px;">TERMS:2021-12-01 2022-11-30 &nbsp; &nbsp;MOS</span>
<span class="t" style="left:1032.86px;top:709.50px;font-size:9.365px;line-height:1;color:#111;font-family:'Liberation Mono',monospace;font-weight:700;transform:scale(1,1.1);transform-origin:0 7.18px;">DCR : 779</span>
<span class="t" style="left:1032.86px;top:721.22px;font-size:9.365px;line-height:1;color:#111;font-family:'Liberation Mono',monospace;font-weight:700;transform:scale(1,1.1);transform-origin:0 7.18px;">DCR : 939</span>
<span class="t" style="left:1016.00px;top:756.38px;font-size:9.365px;line-height:1;color:#111;font-family:'Liberation Mono',monospace;font-weight:700;transform:scale(1,1.1);transform-origin:0 7.18px;">NOTE: &nbsp; THIS INVOICE IS FOR PRODUCT SHIPPED DIRECTLY</span>
<span class="t" style="left:1016.00px;top:768.10px;font-size:9.365px;line-height:1;color:#111;font-family:'Liberation Mono',monospace;font-weight:700;transform:scale(1,1.1);transform-origin:0 7.18px;">FROM THE VENDOR: CISCO - SV DIRECT SHIP</span>
<span class="t" style="left:1016.00px;top:779.82px;font-size:9.365px;line-height:1;color:#111;font-family:'Liberation Mono',monospace;font-weight:700;transform:scale(1,1.1);transform-origin:0 7.18px;">VENDOR NAME IS ON THE CORRESPONDING PACKING SLIP</span>
<span class="t" style="left:1259.69px;top:568.86px;font-size:9.365px;line-height:1;color:#111;font-family:'Liberation Mono',monospace;font-weight:700;transform:scale(1,1.1);transform-origin:0 7.18px;">1</span>
<span class="t" style="left:1342.19px;top:568.86px;font-size:9.365px;line-height:1;color:#111;font-family:'Liberation Mono',monospace;font-weight:700;transform:scale(1,1.1);transform-origin:0 7.18px;">1</span>
<span class="t" style="left:1421.38px;top:568.86px;font-size:9.365px;line-height:1;color:#111;font-family:'Liberation Mono',monospace;font-weight:700;transform:scale(1,1.1);transform-origin:0 7.18px;">EA</span>
<span class="t" style="left:1521.16px;top:568.86px;font-size:9.365px;line-height:1;color:#111;font-family:'Liberation Mono',monospace;font-weight:700;transform:scale(1,1.1);transform-origin:0 7.18px;">$657.10</span>
<span class="t" style="left:1615.16px;top:568.86px;font-size:9.365px;line-height:1;color:#111;font-family:'Liberation Mono',monospace;font-weight:700;transform:scale(1,1.1);transform-origin:0 7.18px;">$657.10</span>
<span class="t" style="left:1259.69px;top:639.18px;font-size:9.365px;line-height:1;color:#111;font-family:'Liberation Mono',monospace;font-weight:700;transform:scale(1,1.1);transform-origin:0 7.18px;">1</span>
<span class="t" style="left:1342.19px;top:639.18px;font-size:9.365px;line-height:1;color:#111;font-family:'Liberation Mono',monospace;font-weight:700;transform:scale(1,1.1);transform-origin:0 7.18px;">1</span>
<span class="t" style="left:1421.38px;top:639.18px;font-size:9.365px;line-height:1;color:#111;font-family:'Liberation Mono',monospace;font-weight:700;transform:scale(1,1.1);transform-origin:0 7.18px;">EA</span>
<span class="t" style="left:1521.16px;top:639.18px;font-size:9.365px;line-height:1;color:#111;font-family:'Liberation Mono',monospace;font-weight:700;transform:scale(1,1.1);transform-origin:0 7.18px;">$319.80</span>
<span class="t" style="left:1615.16px;top:639.18px;font-size:9.365px;line-height:1;color:#111;font-family:'Liberation Mono',monospace;font-weight:700;transform:scale(1,1.1);transform-origin:0 7.18px;">$319.80</span>
</body></html>
